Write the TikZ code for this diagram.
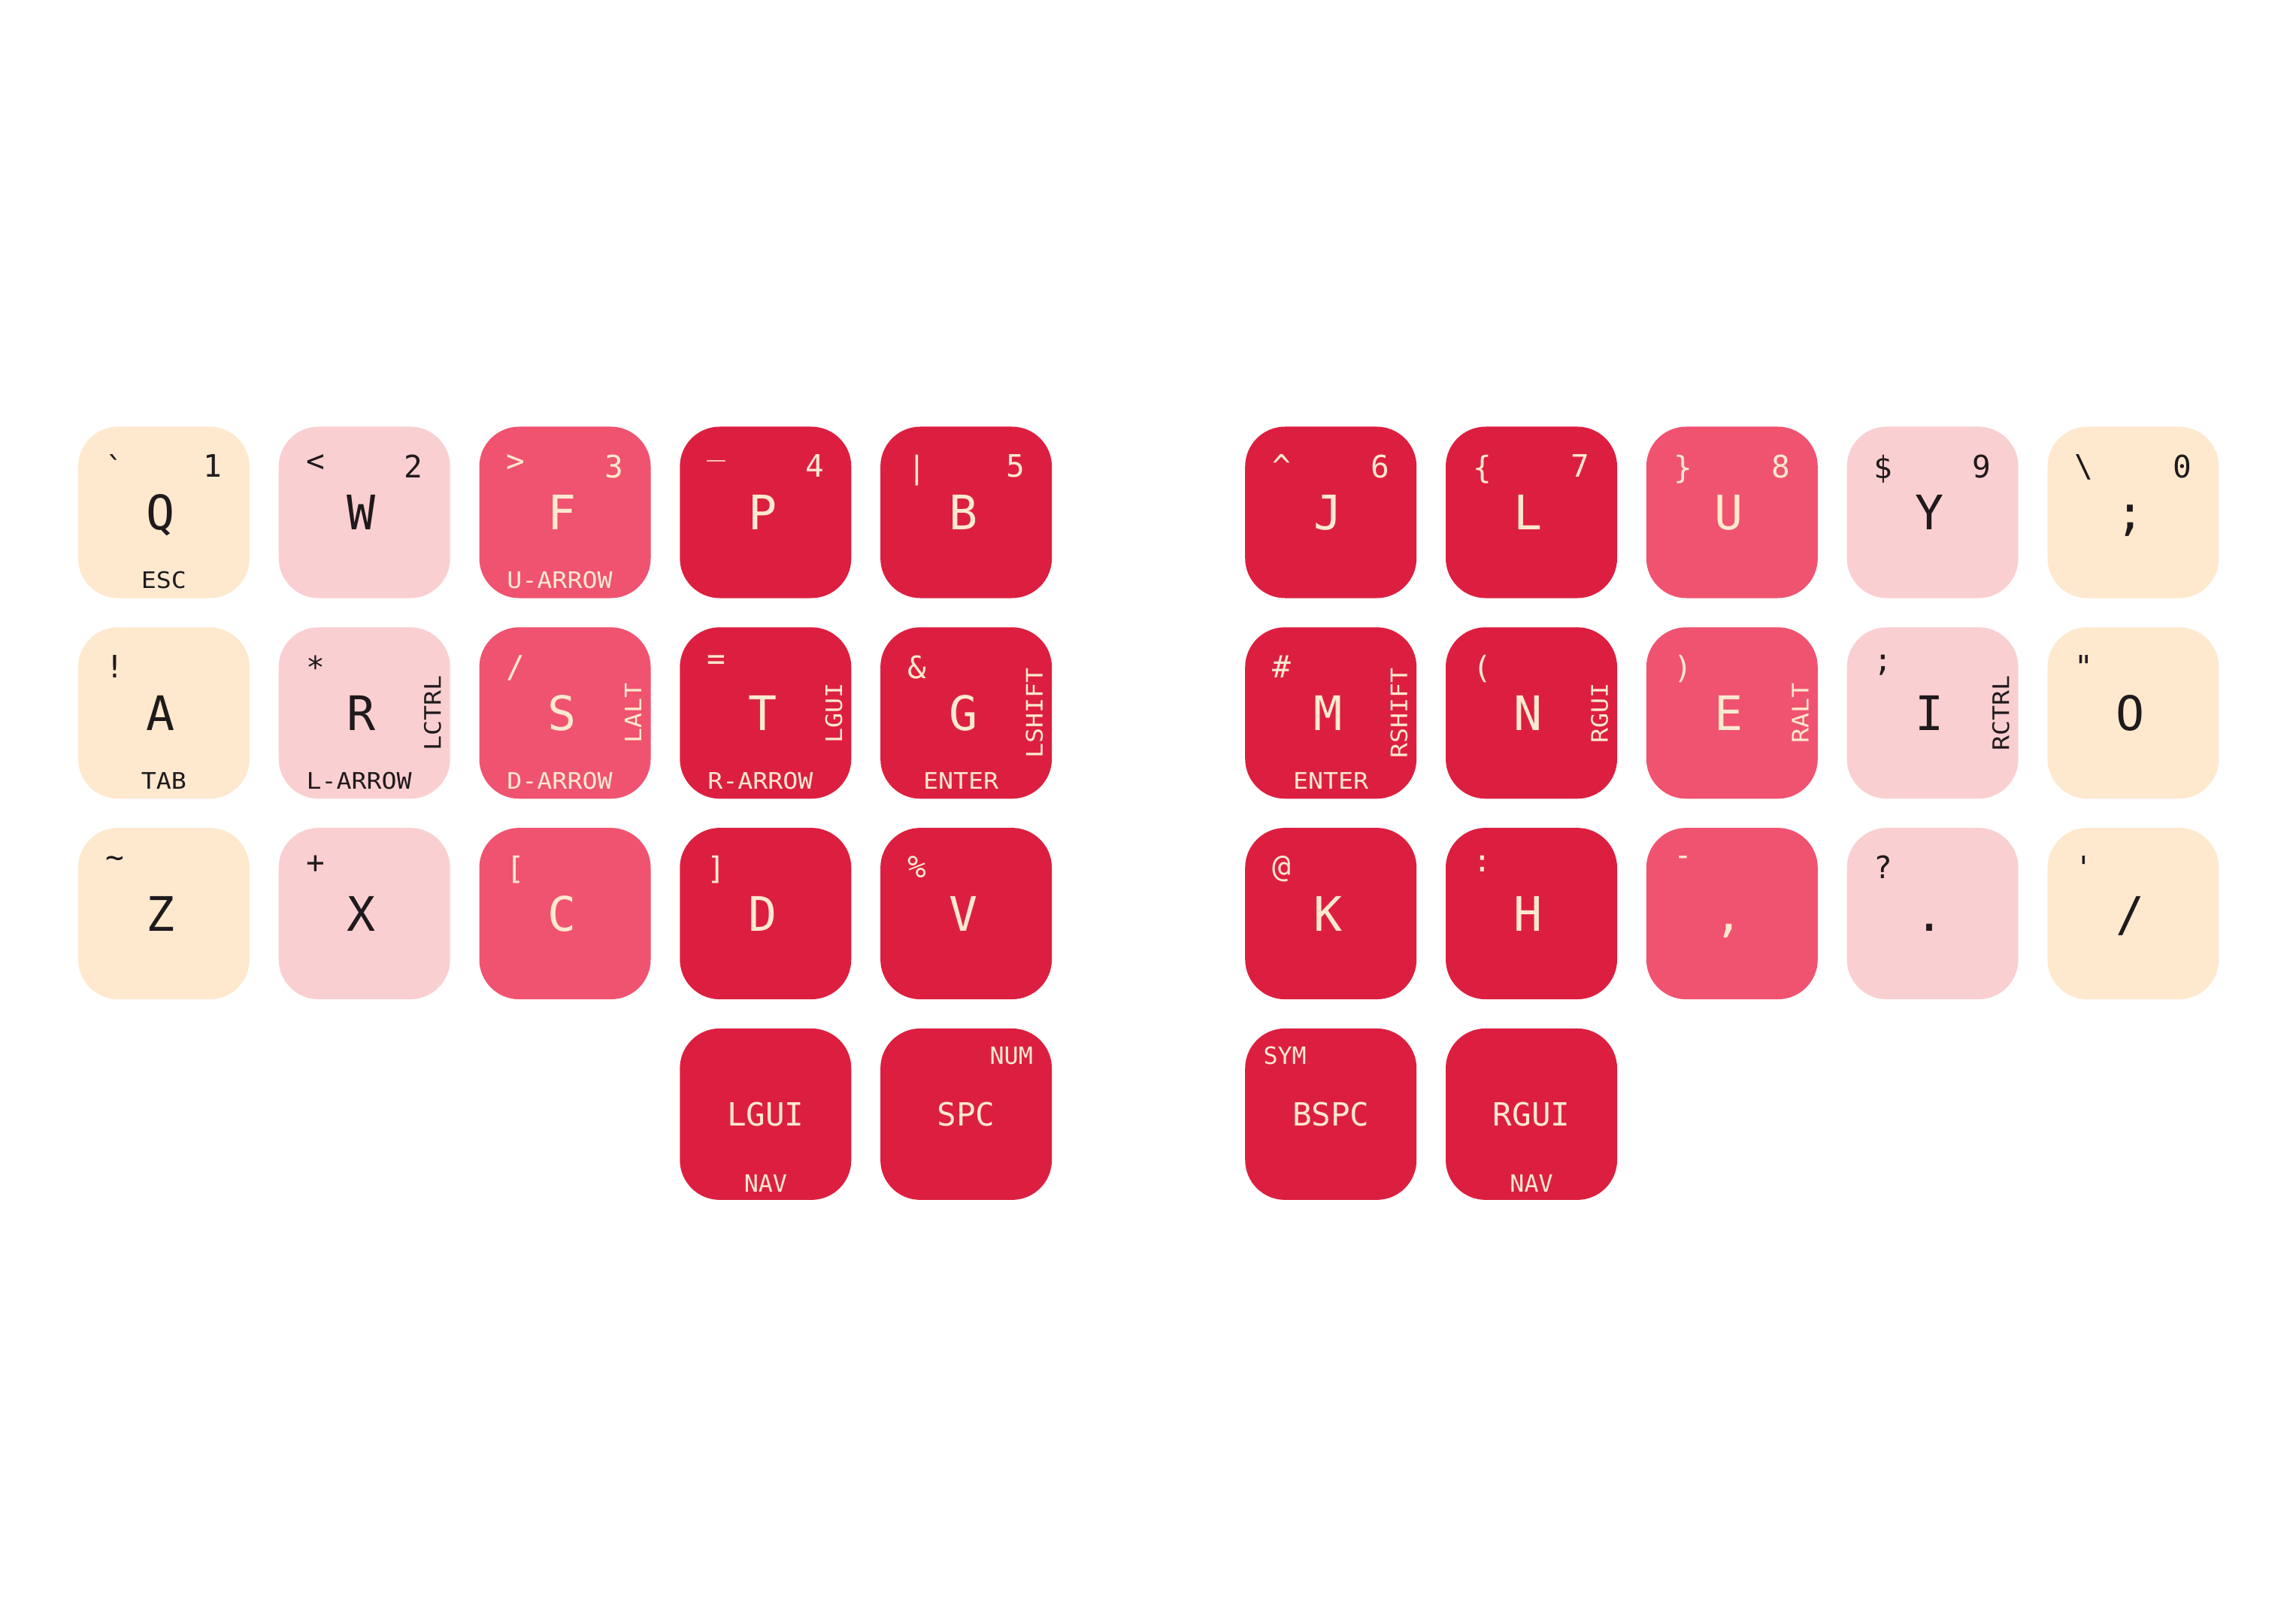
\documentclass[tikz,border=0pt]{standalone}
\usepackage{fontspec}
\setmonofont{DejaVu Sans Mono}
\newfontfamily\kwide[FakeStretch=1.1]{DejaVu Sans Mono}
\definecolor{crbg}{HTML}{FEE9CF}
\definecolor{lpbg}{HTML}{FACFD1}
\definecolor{mdbg}{HTML}{EF5370}
\definecolor{rdbg}{HTML}{DC1F40}
\definecolor{crtxt}{HTML}{1F1A1C}
\definecolor{lptxt}{HTML}{1F1A1C}
\definecolor{mdtxt}{HTML}{FDE9CF}
\definecolor{rdtxt}{HTML}{FDE9CF}
\newcommand\fMain{\ttfamily\fontsize{18}{20}\selectfont}
\newcommand\fTop{\ttfamily\fontsize{11.7}{13}\selectfont}
\newcommand\fSmall{\kwide\fontsize{8.6}{10}\selectfont}
\newcommand\fThumb{\ttfamily\fontsize{12.1}{14}\selectfont}
\newcommand\fThSmall{\ttfamily\fontsize{9}{10}\selectfont}
\tikzset{
  keybox/.style={rectangle, rounded corners=0.53cm, minimum width=2.28cm, minimum height=2.28cm, inner sep=0pt, draw=none, anchor=north west},
  lbl/.style={inner sep=0pt, outer sep=0pt, text=kt}
}
\newcommand\kc[4]{\colorlet{kt}{#4txt}\node[keybox,fill=#4bg] (#1) at (#2/100,-#3/100) {};}
\newcommand\kMn[2]{\node[lbl,font=\fMain,anchor=base] (#1-m) at ([xshift=-0.04cm,yshift=-0.23cm]#1.center) {#2};}
\newcommand\kTL[2]{\node[lbl,font=\fTop,anchor=north west] (#1-tl) at ([xshift=0.37cm,yshift=-0.38cm]#1.north west) {#2};}
\newcommand\kTR[2]{\node[lbl,font=\fTop,anchor=north east] (#1-tr) at ([xshift=-0.37cm,yshift=-0.38cm]#1.north east) {#2};}
\newcommand\kBt[2]{\node[lbl,font=\fSmall,anchor=base] (#1-b) at ([yshift=0.14cm]#1.south) {#2};}
\newcommand\kBtL[2]{\node[lbl,font=\fSmall,anchor=base] (#1-b) at ([xshift=-0.07cm,yshift=0.14cm]#1.south) {#2};}
\newcommand\kRt[2]{\node[lbl,font=\fSmall,anchor=base,rotate=90] (#1-r) at ([xshift=-0.13cm]#1.east) {#2};}
\newcommand\kTh[2]{\node[lbl,font=\fThumb,anchor=base] (#1-m) at ([yshift=-0.155cm]#1.center) {#2};}
\newcommand\kThTR[2]{\node[lbl,font=\fThSmall,anchor=north east] (#1-tr) at ([xshift=-0.26cm,yshift=-0.25cm]#1.north east) {#2};}
\newcommand\kThTL[2]{\node[lbl,font=\fThSmall,anchor=north west] (#1-tl) at ([xshift=0.25cm,yshift=-0.25cm]#1.north west) {#2};}
\newcommand\kThBt[2]{\node[lbl,font=\fThSmall,anchor=base] (#1-b) at ([yshift=0.11cm]#1.south) {#2};}
\begin{document}
\begin{tikzpicture}
\fill[white] (0,0) rectangle (30.54,-21.6);
\useasboundingbox (0,0) rectangle (30.54,-21.6);
% ---------- row 1 ----------
\kc{q}{103.2}{566.8}{cr}\kMn{q}{Q}\kTL{q}{`}\kTR{q}{1}\kBt{q}{ESC}
\kc{w}{370.0}{566.8}{lp}\kMn{w}{W}\kTL{w}{<}\kTR{w}{2}
\kc{f}{636.8}{566.8}{md}\kMn{f}{F}\kTL{f}{>}\kTR{f}{3}\kBtL{f}{U-ARROW}
\kc{p}{903.6}{566.8}{rd}\kMn{p}{P}\kTL{p}{\_}\kTR{p}{4}
\kc{b}{1170.4}{566.8}{rd}\kMn{b}{B}\kTL{b}{|}\kTR{b}{5}
\kc{j}{1655.5}{566.8}{rd}\kMn{j}{J}\kTL{j}{\textasciicircum}\kTR{j}{6}
\kc{l}{1922.3}{566.8}{rd}\kMn{l}{L}\kTL{l}{\{}\kTR{l}{7}
\kc{u}{2189.1}{566.8}{md}\kMn{u}{U}\kTL{u}{\}}\kTR{u}{8}
\kc{y}{2455.9}{566.8}{lp}\kMn{y}{Y}\kTL{y}{\$}\kTR{y}{9}
\kc{sc}{2722.7}{566.8}{cr}\kMn{sc}{;}\kTL{sc}{\textbackslash}\kTR{sc}{0}
% ---------- row 2 ----------
\kc{a}{103.2}{833.6}{cr}\kMn{a}{A}\kTL{a}{!}\kBt{a}{TAB}
\kc{r}{370.0}{833.6}{lp}\kMn{r}{R}\kTL{r}{*}\kBtL{r}{L-ARROW}\kRt{r}{LCTRL}
\kc{s}{636.8}{833.6}{md}\kMn{s}{S}\kTL{s}{/}\kBtL{s}{D-ARROW}\kRt{s}{LALT}
\kc{t}{903.6}{833.6}{rd}\kMn{t}{T}\kTL{t}{=}\kBtL{t}{R-ARROW}\kRt{t}{LGUI}
\kc{g}{1170.4}{833.6}{rd}\kMn{g}{G}\kTL{g}{\&}\kBtL{g}{ENTER}\kRt{g}{LSHIFT}
\kc{m}{1655.5}{833.6}{rd}\kMn{m}{M}\kTL{m}{\#}\kBt{m}{ENTER}\kRt{m}{RSHIFT}
\kc{n}{1922.3}{833.6}{rd}\kMn{n}{N}\kTL{n}{(}\kRt{n}{RGUI}
\kc{e}{2189.1}{833.6}{md}\kMn{e}{E}\kTL{e}{)}\kRt{e}{RALT}
\kc{i}{2455.9}{833.6}{lp}\kMn{i}{I}\kTL{i}{;}\kRt{i}{RCTRL}
\kc{o}{2722.7}{833.6}{cr}\kMn{o}{O}\kTL{o}{"}
% ---------- row 3 ----------
\kc{z}{103.2}{1100.4}{cr}\kMn{z}{Z}\kTL{z}{\textasciitilde}
\kc{x}{370.0}{1100.4}{lp}\kMn{x}{X}\kTL{x}{+}
\kc{c}{636.8}{1100.4}{md}\kMn{c}{C}\kTL{c}{[}
\kc{d}{903.6}{1100.4}{rd}\kMn{d}{D}\kTL{d}{]}
\kc{v}{1170.4}{1100.4}{rd}\kMn{v}{V}\kTL{v}{\%}
\kc{k}{1655.5}{1100.4}{rd}\kMn{k}{K}\kTL{k}{@}
\kc{h}{1922.3}{1100.4}{rd}\kMn{h}{H}\kTL{h}{:}
\kc{cm}{2189.1}{1100.4}{md}\kMn{cm}{,}\kTL{cm}{-}
\kc{dt}{2455.9}{1100.4}{lp}\kMn{dt}{.}\kTL{dt}{?}
\kc{sl}{2722.7}{1100.4}{cr}\kMn{sl}{/}\kTL{sl}{'}
% ---------- thumbs ----------
\kc{lgui}{903.6}{1367.2}{rd}\kTh{lgui}{LGUI}\kThBt{lgui}{NAV}
\kc{spc}{1170.4}{1367.2}{rd}\kTh{spc}{SPC}\kThTR{spc}{NUM}
\kc{bspc}{1655.5}{1367.2}{rd}\kTh{bspc}{BSPC}\kThTL{bspc}{SYM}
\kc{rgui}{1922.3}{1367.2}{rd}\kTh{rgui}{RGUI}\kThBt{rgui}{NAV}
\end{tikzpicture}
\end{document}
